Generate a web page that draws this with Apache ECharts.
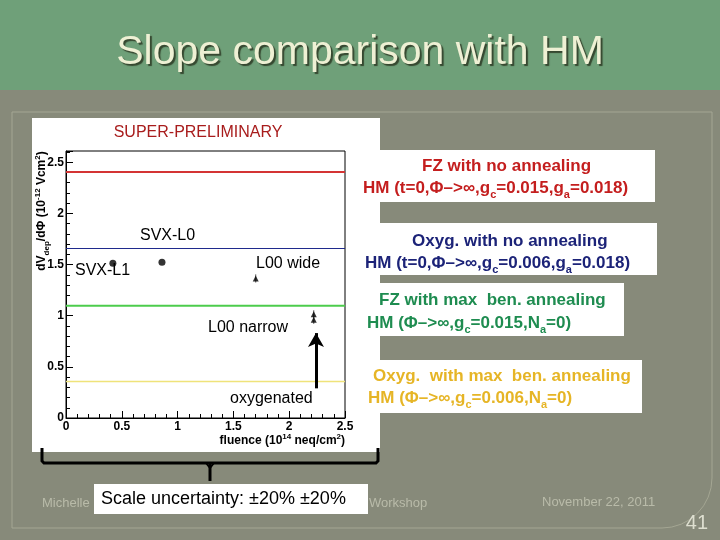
<!DOCTYPE html>
<html>
<head>
<meta charset="utf-8">
<script src="https://cdn.jsdelivr.net/npm/echarts@6/dist/echarts.min.js"></script>
<style>
html,body{margin:0;padding:0;background:#878a7a;}
#chart{width:720px;height:540px;}
</style>
</head>
<body>
<div id="chart"></div>
<script>
// ---- data ----
const hmCurveNames = ['FZ with no annealing', 'Oxyg. with no annealing', 'FZ with max ben. annealing', 'Oxyg. with max ben. annealing'];
const hmSlopes = [2.405, 1.657, 1.097, 0.358];
const fluenceRange = [0, 2.5];
const svxLabels = ['SVX-L1', 'SVX-L0'];
const svxFluence = [0.42, 0.86];
const svxSlope = [1.513, 1.523];
const l00Labels = ['L00 wide', 'L00 narrow', 'L00 narrow'];
const l00Fluence = [1.70, 2.22, 2.22];
const l00Slope = [1.364, 1.013, 0.960];
const l00Err = [0.04, 0.04, 0.04];
const xTickValues = [0, 0.5, 1, 1.5, 2, 2.5];
const yTickValues = [0, 0.5, 1, 1.5, 2, 2.5];
const arrowFluence = 2.24;
const arrowSlope = [0.29, 0.83];

// ---- styles ----
const hmLineColors = ['#d43434', '#1f2a8c', '#4ccc4c', '#efe37a'];
const hmLineWidths = [2, 1.2, 2, 1.5];
const FONT = '"Liberation Sans", Arial, Helvetica, sans-serif';

const chart = echarts.init(document.getElementById('chart'), null, {renderer: 'canvas'});

const hmSeries = hmSlopes.map((v, i) => ({
  name: hmCurveNames[i],
  type: 'line',
  data: fluenceRange.map(x => [x, v]),
  symbol: 'none',
  lineStyle: {color: hmLineColors[i], width: hmLineWidths[i]},
  silent: true,
  z: 3
}));

function txt(x, y, text, opts) {
  return Object.assign({
    type: 'text', x: x, y: y, z: 50,
    style: Object.assign({
      text: text, fill: '#000', fontFamily: FONT, fontSize: 16,
      align: 'left', textAlign: 'left', verticalAlign: 'middle', textVerticalAlign: 'middle'
    }, opts || {})
  });
}
function richHM(color) {
  return {
    s: {fontSize: 11, fontWeight: 'bold', fill: color, fontFamily: FONT, verticalAlign: 'bottom', lineHeight: 24}
  };
}

const legendBoxes = [
  {x: 355, y: 150, w: 300, h: 52},
  {x: 355, y: 223, w: 302, h: 52},
  {x: 355, y: 283, w: 269, h: 53},
  {x: 355, y: 360, w: 287, h: 53}
];
const legendText = [
  {c: '#c41e1e', l1: 'FZ with no annealing', x1: 422, y1: 166, l2: 'HM (t=0,Φ–>∞,g{s|c}=0.015,g{s|a}=0.018)', x2: 363, y2: 188},
  {c: '#1c2378', l1: 'Oxyg. with no annealing', x1: 412, y1: 241, l2: 'HM (t=0,Φ–>∞,g{s|c}=0.006,g{s|a}=0.018)', x2: 365, y2: 263},
  {c: '#1e8c50', l1: 'FZ with max  ben. annealing', x1: 379, y1: 300, l2: 'HM (Φ–>∞,g{s|c}=0.015,N{s|a}=0)', x2: 367, y2: 323},
  {c: '#e6b526', l1: 'Oxyg.  with max  ben. annealing', x1: 373, y1: 376, l2: 'HM (Φ–>∞,g{s|c}=0.006,N{s|a}=0)', x2: 368, y2: 398}
];

const graphics = [
  {type: 'rect', z: -100, shape: {x: 0, y: 0, width: 720, height: 90}, style: {fill: '#6fa079'}},
  {type: 'rect', z: -99, shape: {x: 12, y: 112, width: 700, height: 416, r: [0, 0, 50, 0]}, style: {fill: 'none', stroke: '#a4a693', lineWidth: 1}},
  {type: 'rect', z: -90, shape: {x: 32, y: 118, width: 348, height: 334}, style: {fill: '#ffffff'}},
  txt(360, 53, 'Slope comparison with HM', {fill: '#eef0d4', fontSize: 41, align: 'center', textAlign: 'center', textShadowColor: 'rgba(40,50,30,0.8)', textShadowOffsetX: 2, textShadowOffsetY: 2, textShadowBlur: 1}),
  txt(198, 133, 'SUPER-PRELIMINARY', {fill: '#a81c1c', fontSize: 16, align: 'center', textAlign: 'center'}),
  // y axis title
  {type: 'text', x: 42, y: 211, rotation: Math.PI / 2, z: 50,
    style: {text: 'dV{s|dep}/dΦ (10{p|-12} Vcm{p|2})', fill: '#000', fontFamily: FONT, fontSize: 12, fontWeight: 'bold',
      align: 'center', textAlign: 'center', verticalAlign: 'middle', textVerticalAlign: 'middle',
      rich: {s: {fontSize: 8, fontWeight: 'bold', fontFamily: FONT, verticalAlign: 'bottom', lineHeight: 17, fill: '#000'},
             p: {fontSize: 8, fontWeight: 'bold', fontFamily: FONT, verticalAlign: 'top', lineHeight: 17, fill: '#000'}}}},
  // x axis title
  {type: 'text', x: 345, y: 441, z: 50,
    style: {text: 'fluence (10{p|14} neq/cm{p|2})', fill: '#000', fontFamily: FONT, fontSize: 12, fontWeight: 'bold',
      align: 'right', textAlign: 'right', verticalAlign: 'middle', textVerticalAlign: 'middle',
      rich: {p: {fontSize: 8, fontWeight: 'bold', fontFamily: FONT, verticalAlign: 'top', lineHeight: 17, fill: '#000'}}}},
  // in-plot annotations
  txt(140, 236, 'SVX-L0'),
  txt(75, 271, 'SVX-L1'),
  txt(256, 264, 'L00 wide'),
  txt(208, 328, 'L00 narrow'),
  txt(230, 399, 'oxygenated'),
  // brace
  {type: 'polyline', z: 20, shape: {points: [[42, 448], [42, 461], [44, 463], [376, 463], [378, 461], [378, 448]]}, style: {stroke: '#000', lineWidth: 3, fill: 'none'}},
  {type: 'polyline', z: 20, shape: {points: [[210, 463], [210, 481]]}, style: {stroke: '#000', lineWidth: 3, fill: 'none'}},
  {type: 'polyline', z: 20, shape: {points: [[206, 463], [210, 468], [214, 463]]}, style: {stroke: '#000', lineWidth: 2, fill: 'none'}},
  // footer
  txt(42, 503, 'Michelle', {fill: '#b9bba9', fontSize: 13}),
  txt(369, 503, 'Workshop', {fill: '#b9bba9', fontSize: 13}),
  txt(542, 502, 'November 22, 2011', {fill: '#b9bba9', fontSize: 13}),
  txt(708, 523, '41', {fill: '#dedfd0', fontSize: 20, align: 'right', textAlign: 'right'}),
  {type: 'rect', z: 30, shape: {x: 94, y: 484, width: 274, height: 30}, style: {fill: '#ffffff'}},
  txt(101, 499, 'Scale uncertainty: ±20% ±20%', {fontSize: 18})
];
legendBoxes.forEach(b => graphics.push({type: 'rect', z: -90, shape: {x: b.x, y: b.y, width: b.w, height: b.h}, style: {fill: '#ffffff'}}));
legendText.forEach(t => {
  graphics.push(txt(t.x1, t.y1, t.l1, {fill: t.c, fontWeight: 'bold', fontSize: 17}));
  graphics.push(txt(t.x2, t.y2, t.l2, {fill: t.c, fontWeight: 'bold', fontSize: 17, rich: richHM(t.c)}));
});

const axisLabelStyle = {color: '#000', fontFamily: FONT, fontSize: 12, fontWeight: 'bold'};

chart.setOption({
  animation: false,
  backgroundColor: '#878a7a',
  graphic: {elements: graphics},
  grid: {left: 66, right: 375, top: 151, bottom: 122, show: true, borderColor: '#000', borderWidth: 1, backgroundColor: 'transparent', containLabel: false, outerBoundsMode: 'none'},
  xAxis: {
    type: 'value', min: xTickValues[0], max: xTickValues[xTickValues.length - 1], interval: 0.5,
    axisLine: {show: true, onZero: false, lineStyle: {color: '#000', width: 1}},
    axisTick: {show: true, inside: true, length: 7, lineStyle: {color: '#000'}},
    minorTick: {show: true, splitNumber: 5, length: 4, lineStyle: {color: '#000'}},
    splitLine: {show: false},
    axisLabel: Object.assign({margin: 3, formatter: v => String(v)}, axisLabelStyle)
  },
  yAxis: {
    type: 'value', min: yTickValues[0], max: 2.61, interval: 0.5,
    axisLine: {show: true, onZero: false, lineStyle: {color: '#000', width: 1}},
    axisTick: {show: true, inside: true, length: 7, lineStyle: {color: '#000'}},
    minorTick: {show: true, splitNumber: 5, length: 4, lineStyle: {color: '#000'}},
    splitLine: {show: false},
    axisLabel: Object.assign({margin: 2, showMaxLabel: false, formatter: v => (yTickValues.indexOf(v) >= 0 ? String(v) : '')}, axisLabelStyle)
  },
  series: hmSeries.concat([
    {
      name: 'SVX', type: 'scatter', symbol: 'circle', symbolSize: 7, z: 5,
      itemStyle: {color: '#000'},
      data: svxFluence.map((x, i) => ({name: svxLabels[i], value: [x, svxSlope[i]]}))
    },
    {
      name: 'L00 errors', type: 'custom', z: 4,
      data: l00Fluence.map((x, i) => [x, l00Slope[i] - l00Err[i], l00Slope[i] + l00Err[i]]),
      renderItem: function (params, api) {
        const p1 = api.coord([api.value(0), api.value(1)]);
        const p2 = api.coord([api.value(0), api.value(2)]);
        return {type: 'line', shape: {x1: p1[0], y1: p1[1], x2: p2[0], y2: p2[1]}, style: {stroke: '#555', lineWidth: 1}};
      }
    },
    {
      name: 'L00', type: 'scatter', symbol: 'triangle', symbolSize: 6, z: 5,
      itemStyle: {color: '#000'},
      data: l00Fluence.map((x, i) => ({name: l00Labels[i], value: [x, l00Slope[i]]})),
      markLine: {
        silent: true, symbol: ['none', 'arrow'], symbolSize: [12, 14],
        lineStyle: {color: '#000', width: 3, type: 'solid'},
        label: {show: false},
        data: [[{coord: [arrowFluence, arrowSlope[0]]}, {coord: [arrowFluence, arrowSlope[1]]}]]
      }
    }
  ])
});
</script>
</body>
</html>
